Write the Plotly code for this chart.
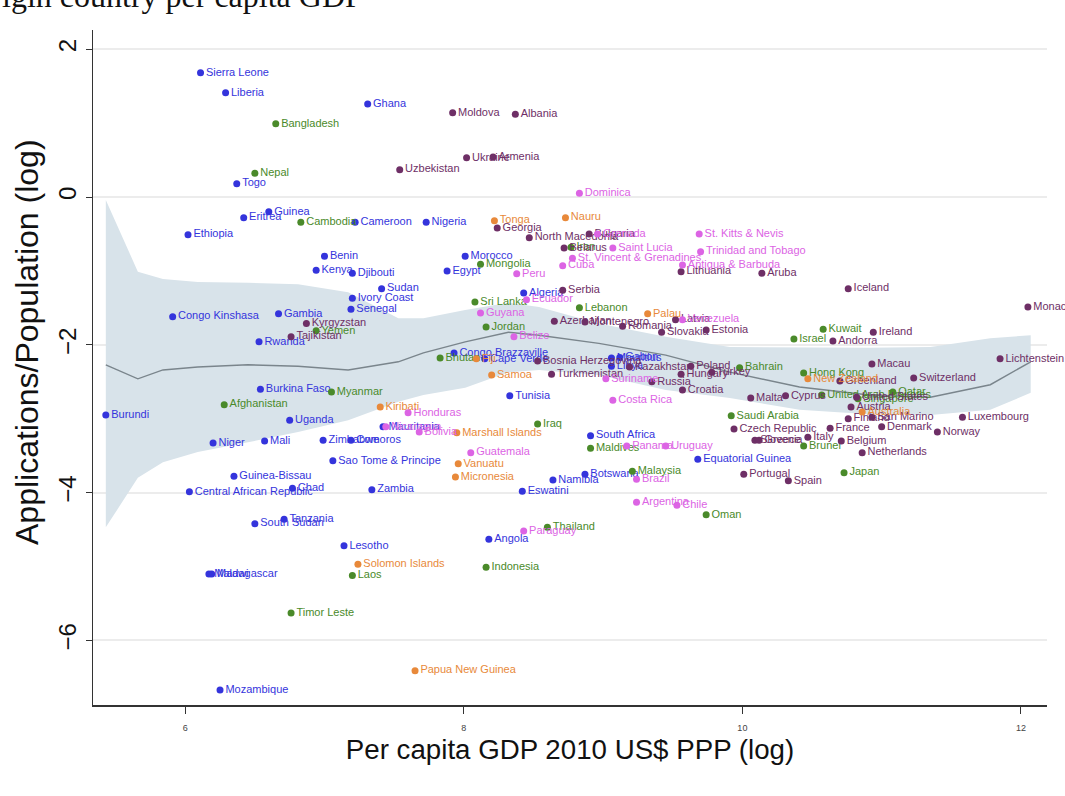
import plotly.graph_objects as go

# ---- local-polynomial fit with 95% band ----
band_x = [5.43, 5.66, 5.84, 6.09, 6.45, 6.81, 7.17, 7.53, 7.71, 8.01, 8.32, 8.54,
          8.97, 9.45, 9.91, 10.41, 10.91, 11.35, 11.78, 12.07]
band_hi = [-0.04, -1.01, -1.11, -1.15, -1.16, -1.18, -1.29, -1.64, -1.64, -1.53, -1.43, -1.49,
           -1.71, -1.89, -2.03, -2.04, -2.04, -2.03, -1.91, -1.87]
band_fit = [-2.27, -2.46, -2.34, -2.30, -2.27, -2.29, -2.34, -2.23, -2.11, -1.96, -1.83, -1.87,
            -1.98, -2.14, -2.37, -2.57, -2.68, -2.71, -2.54, -2.23]
band_lo = [-4.47, -3.80, -3.59, -3.45, -3.32, -3.18, -3.02, -2.77, -2.68, -2.58, -2.37, -2.34,
           -2.41, -2.61, -2.72, -2.88, -2.94, -2.95, -2.88, -2.65]

# ---- countries by region: name, log GDP per capita, log applications/population ----
africa_names = ["Sierra Leone", "Liberia", "Ghana", "Togo", "Guinea", "Eritrea", "Cameroon",
                "Nigeria", "Ethiopia", "Benin", "Kenya", "Djibouti", "Sudan", "Ivory Coast",
                "Senegal", "Congo Kinshasa", "Gambia", "Rwanda", "Morocco", "Egypt", "Algeria",
                "Congo Brazzaville", "Cape Verde", "Burkina Faso", "Burundi", "Uganda", "Niger",
                "Mali", "Zimbabwe", "Comoros", "Mauritania", "Sao Tome & Principe",
                "Guinea-Bissau", "Central African Republic", "Chad", "Zambia", "Tunisia",
                "South Africa", "Mauritius", "Gabon", "Libya", "Namibia", "Botswana", "Eswatini",
                "Equatorial Guinea", "Angola", "Lesotho", "South Sudan", "Tanzania", "Malawi",
                "Madagascar", "Mozambique"]
africa_x = [6.11, 6.29, 7.31, 6.37, 6.60, 6.42, 7.22, 7.73, 6.02, 7.00, 6.94, 7.20, 7.41, 7.20,
            7.19, 5.91, 6.67, 6.53, 8.01, 7.88, 8.43, 7.93, 8.15, 6.54, 5.43, 6.75, 6.20, 6.57,
            6.99, 7.19, 7.42, 7.06, 6.35, 6.03, 6.77, 7.34, 8.33, 8.91, 9.06, 9.12, 9.06, 8.64,
            8.87, 8.42, 9.68, 8.18, 7.14, 6.50, 6.71, 6.17, 6.19, 6.25]
africa_y = [1.68, 1.41, 1.26, 0.18, -0.20, -0.28, -0.34, -0.34, -0.51, -0.80, -0.99, -1.03,
            -1.24, -1.37, -1.52, -1.62, -1.58, -1.96, -0.80, -1.00, -1.30, -2.11, -2.19, -2.60,
            -2.95, -3.02, -3.33, -3.30, -3.29, -3.29, -3.11, -3.57, -3.78, -3.99, -3.94, -3.96,
            -2.69, -3.23, -2.18, -2.17, -2.29, -3.83, -3.75, -3.98, -3.55, -4.63, -4.72, -4.42,
            -4.36, -5.10, -5.10, -6.67]

asia_names = ["Bangladesh", "Nepal", "Cambodia", "Mongolia", "Iran", "Sri Lanka", "Lebanon",
              "Jordan", "Yemen", "Bhutan", "Myanmar", "Afghanistan", "Iraq", "Maldives",
              "Malaysia", "Thailand", "Indonesia", "Laos", "Timor Leste", "Bahrain", "Israel",
              "Kuwait", "Hong Kong", "Saudi Arabia", "United Arab Emirates", "Singapore",
              "Qatar", "Brunei", "Japan", "Oman"]
asia_x = [6.65, 6.50, 6.83, 8.12, 8.77, 8.08, 8.83, 8.16, 6.94, 7.83, 7.05, 6.28, 8.53, 8.91,
          9.21, 8.60, 8.16, 7.20, 6.76, 9.98, 10.37, 10.58, 10.44, 9.92, 10.57, 10.83, 11.08,
          10.44, 10.73, 9.74]
asia_y = [0.99, 0.32, -0.34, -0.91, -0.68, -1.42, -1.50, -1.76, -1.81, -2.18, -2.64, -2.81,
          -3.07, -3.40, -3.71, -4.47, -5.01, -5.12, -5.63, -2.31, -1.92, -1.79, -2.38, -2.96,
          -2.68, -2.73, -2.64, -3.37, -3.73, -4.30]

europe_names = ["Moldova", "Albania", "Ukraine", "Armenia", "Uzbekistan", "Georgia",
                "North Macedonia", "Bulgaria", "Belarus", "Serbia", "Lithuania", "Aruba",
                "Iceland", "Monaco", "Azerbaijan", "Montenegro", "Romania", "Latvia", "Slovakia",
                "Estonia", "Ireland", "Andorra", "Tajikistan", "Kyrgyzstan", "Bosnia Herzegovina",
                "Kazakhstan", "Poland", "Turkey", "Hungary", "Turkmenistan", "Russia", "Croatia",
                "Macau", "Lichtenstein", "Switzerland", "Greenland", "Malta", "Cyprus",
                "United States", "Austria", "Finland", "San Marino", "Luxembourg",
                "Czech Republic", "France", "Denmark", "Norway", "Slovenia", "Greece", "Italy",
                "Belgium", "Netherlands", "Portugal", "Spain"]
europe_x = [7.92, 8.37, 8.02, 8.21, 7.54, 8.24, 8.47, 8.90, 8.72, 8.71, 9.56, 10.14, 10.76,
            12.05, 8.65, 8.87, 9.14, 9.52, 9.42, 9.74, 10.94, 10.65, 6.76, 6.87, 8.53, 9.19,
            9.63, 9.78, 9.56, 8.63, 9.35, 9.57, 10.93, 11.85, 11.23, 10.70, 10.06, 10.31,
            10.82, 10.78, 10.76, 10.93, 11.58, 9.94, 10.63, 11.00, 11.40, 10.09, 10.12, 10.47,
            10.71, 10.86, 10.01, 10.33]
europe_y = [1.14, 1.12, 0.53, 0.54, 0.37, -0.42, -0.55, -0.50, -0.69, -1.26, -1.01, -1.03,
            -1.24, -1.49, -1.68, -1.69, -1.75, -1.66, -1.83, -1.80, -1.83, -1.95, -1.89, -1.71,
            -2.22, -2.30, -2.29, -2.37, -2.40, -2.40, -2.50, -2.61, -2.26, -2.19, -2.45, -2.49,
            -2.72, -2.69, -2.71, -2.84, -3.00, -2.98, -2.98, -3.14, -3.13, -3.11, -3.18, -3.29,
            -3.29, -3.25, -3.30, -3.46, -3.75, -3.84]

oceania_names = ["Tonga", "Nauru", "Palau", "Fiji", "Samoa", "Kiribati", "Marshall Islands",
                 "Vanuatu", "Micronesia", "Solomon Islands", "Papua New Guinea", "New Zealand",
                 "Australia"]
oceania_x = [8.22, 8.73, 9.32, 8.09, 8.20, 7.40, 7.95, 7.96, 7.94, 7.24, 7.65, 10.47, 10.86]
oceania_y = [-0.32, -0.28, -1.58, -2.19, -2.41, -2.84, -3.19, -3.61, -3.79, -4.97, -6.41,
             -2.46, -2.91]

latam_names = ["Dominica", "Grenada", "Saint Lucia", "St. Vincent & Grenadines", "Cuba", "Peru",
               "St. Kitts & Nevis", "Trinidad and Tobago", "Antigua & Barbuda", "Ecuador",
               "Guyana", "Belize", "Venezuela", "Suriname", "Costa Rica", "Honduras",
               "Nicaragua", "Bolivia", "Guatemala", "Panama", "Uruguay", "Brazil", "Argentina",
               "Chile", "Paraguay"]
latam_x = [8.83, 8.96, 9.07, 8.78, 8.71, 8.38, 9.69, 9.70, 9.57, 8.45, 8.12, 8.36, 9.57, 9.02,
           9.07, 7.60, 7.44, 7.68, 8.05, 9.17, 9.45, 9.24, 9.24, 9.53, 8.43]
latam_y = [0.05, -0.50, -0.69, -0.83, -0.93, -1.04, -0.50, -0.74, -0.92, -1.39, -1.57, -1.89,
           -1.66, -2.46, -2.75, -2.92, -3.11, -3.18, -3.46, -3.37, -3.37, -3.82, -4.13, -4.17,
           -4.52]

y_ticks = [2, 0, -2, -4, -6]
x_ticks = [6, 8, 10, 12]

FONT = "Liberation Sans, Arial, Helvetica, sans-serif"

fig = go.Figure()

fig.add_trace(go.Scatter(
    x=band_x + band_x[::-1], y=band_hi + band_lo[::-1],
    fill="toself", fillcolor="#d8e3ea", line=dict(width=0),
    mode="lines", hoverinfo="skip", showlegend=False))
fig.add_trace(go.Scatter(
    x=band_x, y=band_fit, mode="lines", line=dict(color="#7a858c", width=1.4),
    hoverinfo="skip", showlegend=False))

groups = [
    (africa_names, africa_x, africa_y, "#3434dc"),
    (asia_names, asia_x, asia_y, "#4a8a2a"),
    (europe_names, europe_x, europe_y, "#6e2f66"),
    (oceania_names, oceania_x, oceania_y, "#e8893a"),
    (latam_names, latam_x, latam_y, "#dc64e4"),
]
for names, xs, ys, col in groups:
    fig.add_trace(go.Scatter(
        x=xs, y=ys, text=names, mode="markers+text",
        textposition="middle right", cliponaxis=False,
        marker=dict(size=7, color=col),
        textfont=dict(family=FONT, size=11, color=col),
        showlegend=False))

# caption line running off the top of the page
fig.add_annotation(
    text="igin country per capita GDP", xref="paper", yref="paper",
    x=-93 / 954, y=(705 - 16) / 675, xanchor="left", yanchor="bottom",
    showarrow=False, font=dict(family="Liberation Serif, Times New Roman, serif",
                               size=32, color="#111"))

# vertical axis title
fig.add_annotation(
    text="Applications/Population (log)", xref="paper", yref="paper",
    x=(27 - 93) / 954, y=(705 - 342) / 675, xanchor="center", yanchor="middle",
    textangle=-90, showarrow=False, font=dict(family=FONT, size=32, color="#111"))

fig.update_layout(
    width=1065, height=796,
    margin=dict(l=93, r=18, t=30, b=91),
    paper_bgcolor="white", plot_bgcolor="white",
    font=dict(family=FONT, color="#111"),
    xaxis=dict(range=[5.338, 12.187], tickvals=x_ticks, ticks="outside", ticklen=7,
               tickcolor="#333", showgrid=False, zeroline=False, showline=True,
               linecolor="#333", linewidth=2, tickfont=dict(size=9, color="#444"),
               ticklabelstandoff=6,
               title=dict(text="Per capita GDP 2010 US$ PPP (log)",
                          font=dict(size=27.7, color="#111"), standoff=8)),
    yaxis=dict(range=[-6.874, 2.26], tickvals=y_ticks, ticks="outside", ticklen=6,
               tickcolor="#333", showgrid=True, gridcolor="#ececec", gridwidth=2,
               zeroline=False, showline=True, linecolor="#333", linewidth=1.2,
               tickangle=-90, tickfont=dict(size=24, color="#111")),
)

fig.write_html("out.html")
